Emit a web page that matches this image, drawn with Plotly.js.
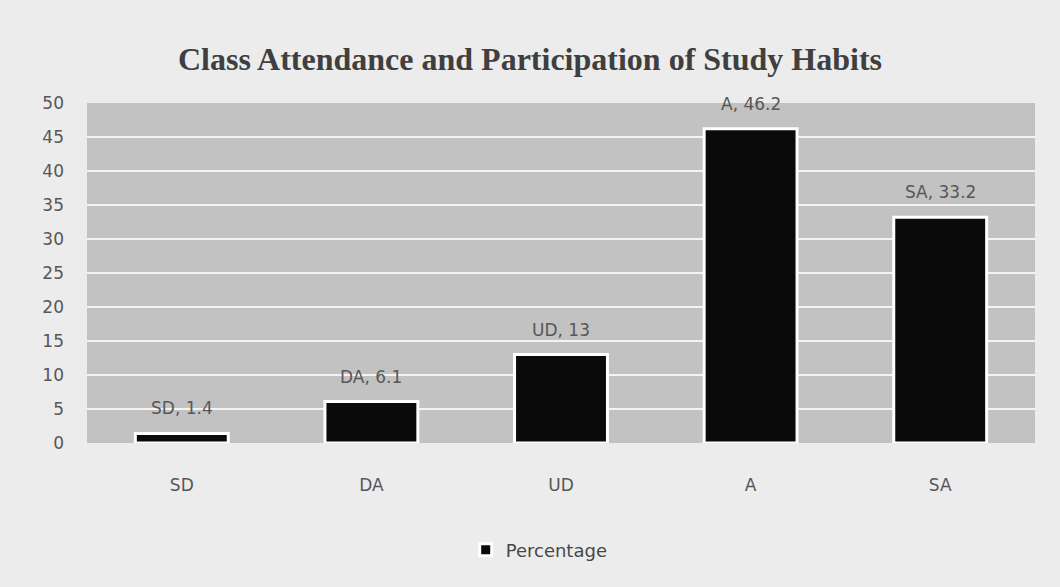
<!DOCTYPE html>
<html>
<head>
<meta charset="utf-8">
<script src="https://cdn.plot.ly/plotly-3.0.1.min.js"></script>
<style>html,body{margin:0;padding:0;background:#ececec;}#chart{width:1060px;height:587px;}</style>
</head>
<body>
<div id="chart"></div>
<script>
var categories = ["SD", "DA", "UD", "A", "SA"];
var percentages = [1.4, 6.1, 13, 46.2, 33.2];
var seriesName = "Percentage";
var yTicks = [0, 5, 10, 15, 20, 25, 30, 35, 40, 45, 50];

var labelFont = {family: "DejaVu Sans, Open Sans, sans-serif", size: 17, color: "#575757"};

var annotations = categories.map(function (c, i) {
  return {
    x: c, y: percentages[i], xref: "x", yref: "y",
    text: c + ", " + percentages[i],
    showarrow: false, yanchor: "bottom", yshift: 13,
    font: labelFont
  };
});

var trace = {
  type: "bar",
  x: categories,
  y: percentages,
  name: seriesName,
  marker: {color: "#0a0a0a", line: {color: "#ffffff", width: 3}},
  showlegend: true,
  hoverinfo: "x+y"
};

var layout = {
  width: 1060, height: 587,
  paper_bgcolor: "#ececec",
  plot_bgcolor: "#c2c2c2",
  margin: {l: 87, r: 25, t: 103, b: 144},
  title: {
    text: "<b>Class Attendance and Participation of Study Habits</b>",
    font: {family: "Liberation Serif, Times New Roman, serif", size: 32, color: "#3f3f3f"},
    x: 0.5, xanchor: "center", y: 0.9, yanchor: "middle", yref: "container"
  },
  bargap: 0.51,
  xaxis: {
    type: "category",
    showgrid: false, zeroline: false, showline: false,
    tickfont: labelFont,
    ticklabelstandoff: 30
  },
  yaxis: {
    range: [0, 50],
    tickvals: yTicks,
    showgrid: true, gridcolor: "#f4f4f4", gridwidth: 2,
    zeroline: false, showline: false,
    tickfont: labelFont,
    ticklabelstandoff: 22
  },
  legend: {
    orientation: "h", x: 0.477, xanchor: "center", y: -0.315, yanchor: "middle",
    font: {family: "DejaVu Sans, Open Sans, sans-serif", size: 18, color: "#474747"},
    bgcolor: "rgba(0,0,0,0)", itemwidth: 30
  },
  annotations: annotations
};

Plotly.newPlot("chart", [trace], layout, {displayModeBar: false, staticPlot: true});
</script>
</body>
</html>
